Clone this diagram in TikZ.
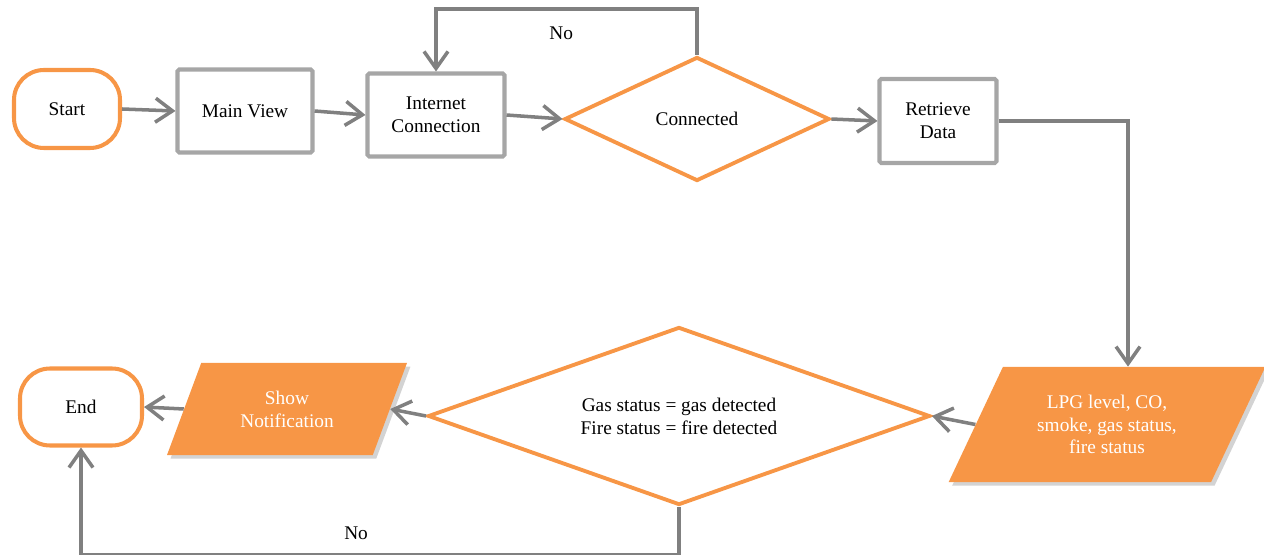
\documentclass[tikz,border=0pt]{standalone}
\usepackage{fontspec}
\setmainfont{Liberation Serif}
\usepackage{xcolor}
\usetikzlibrary{shapes.geometric,arrows.meta,positioning,shadows}
\definecolor{flowOrange}{HTML}{F79646}
\definecolor{boxGray}{HTML}{A6A6A6}
\definecolor{lineGray}{HTML}{808080}

\begin{document}
\begin{tikzpicture}[
    font=\fontsize{11}{13}\selectfont,
    term/.style={rectangle, draw=flowOrange, line width=2.3pt, rounded corners=0.6cm, align=center},
    box/.style={rectangle, draw=boxGray, line width=2.3pt, rounded corners=1pt, align=center},
    decision/.style={diamond, draw=flowOrange, line width=2.2pt, inner sep=0pt, align=center},
    io/.style={trapezium, trapezium stretches=true, fill=flowOrange, text=white, align=center,
        drop shadow={shadow xshift=2pt, shadow yshift=-2pt, opacity=0.35}},
    arrow/.style={-{Straight Barb[length=3.4mm,width=4.8mm]}, lineGray, line width=2pt}
]
    \useasboundingbox (0,0) rectangle (25.28,11.08);

    % Top row
    \node[term, minimum width=2.12cm, minimum height=1.56cm] (start) at (1.34,8.90) {Start};
    \node[box, minimum width=2.7cm, minimum height=1.66cm] (main) at (4.90,8.86) {Main View};
    \node[box, minimum width=2.74cm, minimum height=1.66cm] (inet) at (8.72,8.78) {Internet\\Connection};
    \node[decision, minimum width=5.3cm, minimum height=2.48cm, shape aspect=2.1] (conn) at (13.94,8.70) {Connected};
    \node[box, minimum width=2.34cm, minimum height=1.68cm] (fetch) at (18.76,8.66) {Retrieve\\Data};

    % Bottom row
    \node[io, trapezium left angle=61, trapezium right angle=119, minimum width=6.34cm, minimum height=2.3cm] (sensors) at (22.14,2.59) {LPG level, CO,\\smoke, gas status,\\fire status};
    \node[decision, minimum width=10.04cm, minimum height=3.56cm, shape aspect=2.8] (alarm) at (13.58,2.76) {Gas status = gas detected\\Fire status = fire detected};
    \node[io, trapezium left angle=66.5, trapezium right angle=113.5, minimum width=4.82cm, minimum height=1.84cm] (notify) at (5.74,2.90) {Show\\Notification};
    \node[term, minimum width=2.44cm, minimum height=1.54cm] (finish) at (1.62,2.94) {End};

    % Connectors
    \draw[arrow] (start.east) -- (main.west);
    \draw[arrow] (main.east) -- (inet.west);
    \draw[arrow] (inet.east) -- (conn.west);
    \draw[arrow] (conn.east) -- (fetch.west);
    \draw[arrow] (conn.north) -- ++(0,0.92) -| node[pos=0.26, below=2mm, text=black] {No} (inet.north);
    \draw[arrow] (fetch.east) -| ([xshift=0.42cm]sensors.north);
    \draw[arrow] (sensors.west) -- (alarm.east);
    \draw[arrow] (alarm.west) -- (notify.east);
    \draw[arrow] (notify.west) -- (finish.east);
    \draw[arrow] (alarm.south) -- ++(0,-0.95) -| node[pos=0.27, above=1.5mm, text=black] {No} (finish.south);
\end{tikzpicture}
\end{document}
